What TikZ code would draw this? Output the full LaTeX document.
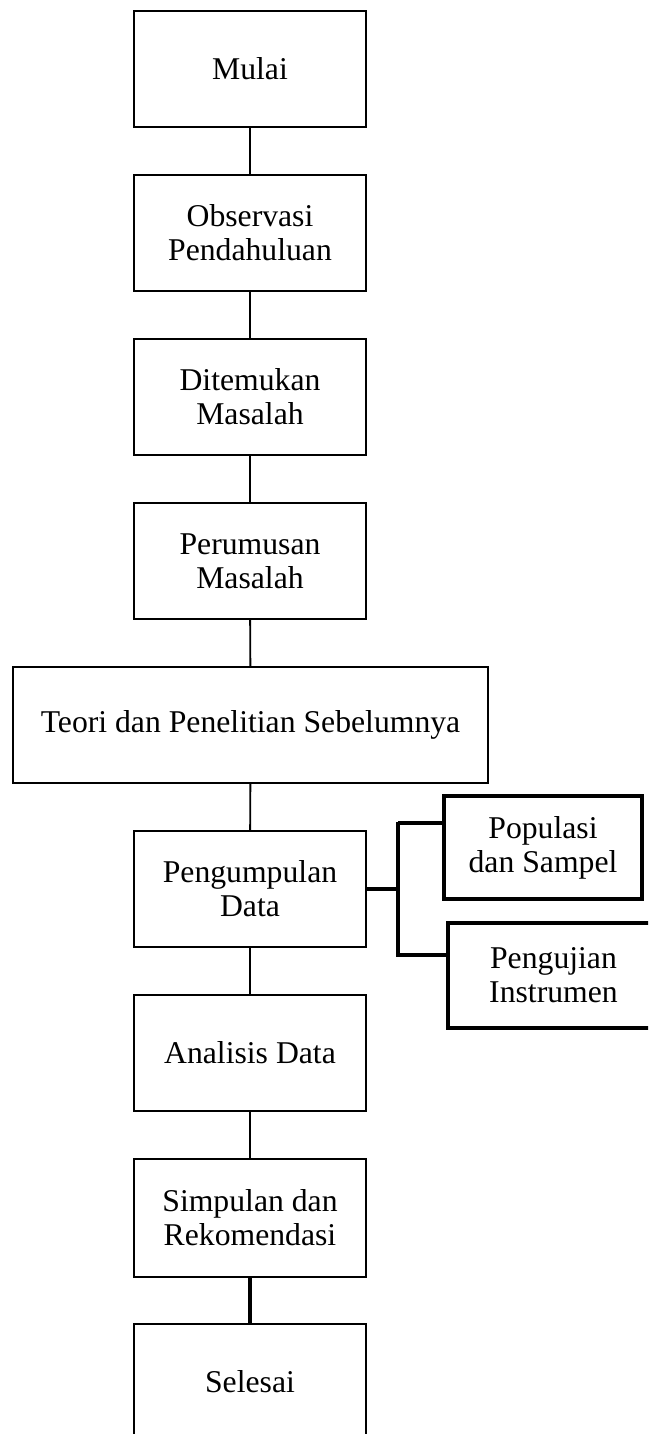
\documentclass[tikz,border=0pt]{standalone}
\usepackage{fontspec}
\setmainfont{Liberation Serif}
\begin{document}
\begin{tikzpicture}[x=1pt,y=-1pt,
  txt/.style={font=\fontsize{31.7}{34}\selectfont, align=center, inner sep=0pt},
  mainbox/.style={txt, draw, rectangle, line width=1.9pt, minimum width=232pt, minimum height=116pt},
  sidebox/.style={txt, draw, rectangle, line width=3.3pt},
  link/.style={line width=1.9pt},
  thicklink/.style={line width=3.6pt}]
\clip (0,0) rectangle (648,1434);
\node[mainbox] (mulai) at (250,69) {Mulai};
\node[mainbox] (obs) at (250,233) {Observasi\\Pendahuluan};
\node[mainbox] (temu) at (250,397) {Ditemukan\\Masalah};
\node[mainbox] (rumus) at (250,561) {Perumusan\\Masalah};
\node[mainbox, minimum width=475pt] (teori) at (250.5,725) {Teori dan Penelitian Sebelumnya};
\node[mainbox] (kumpul) at (250,889) {Pengumpulan\\Data};
\node[mainbox] (analisis) at (250,1053) {Analisis Data};
\node[mainbox, minimum height=118pt] (simpul) at (250,1218) {Simpulan dan\\Rekomendasi};
\node[mainbox] (selesai) at (250,1382) {Selesai};
\node[sidebox, minimum width=198pt, minimum height=103pt] (pop) at (543,847.5) {Populasi\\dan Sampel};
\node[sidebox, minimum width=211pt, minimum height=105pt] (uji) at (553.5,975.5) {Pengujian\\Instrumen};
\draw[link] (mulai) -- (obs);
\draw[link] (obs) -- (temu);
\draw[link] (temu) -- (rumus);
\draw[link] (rumus) -- (teori);
\draw[link] (teori) -- (kumpul);
\draw[link] (kumpul) -- (analisis);
\draw[link] (analisis) -- (simpul);
\draw[thicklink] (simpul) -- (selesai);
\coordinate (bt) at (398,823);
\coordinate (bb) at (398,955);
\coordinate (bm) at (398,889);
\draw[line width=3.3pt] (kumpul.east) -- (bm);
\draw[line width=3.3pt] ([yshift=1.5pt]bt) -- ([yshift=-1.5pt]bb);
\draw[line width=3.3pt] (bt) -- (bt -| pop.west);
\draw[line width=3.3pt] (bb) -- (bb -| uji.west);
\end{tikzpicture}
\end{document}
